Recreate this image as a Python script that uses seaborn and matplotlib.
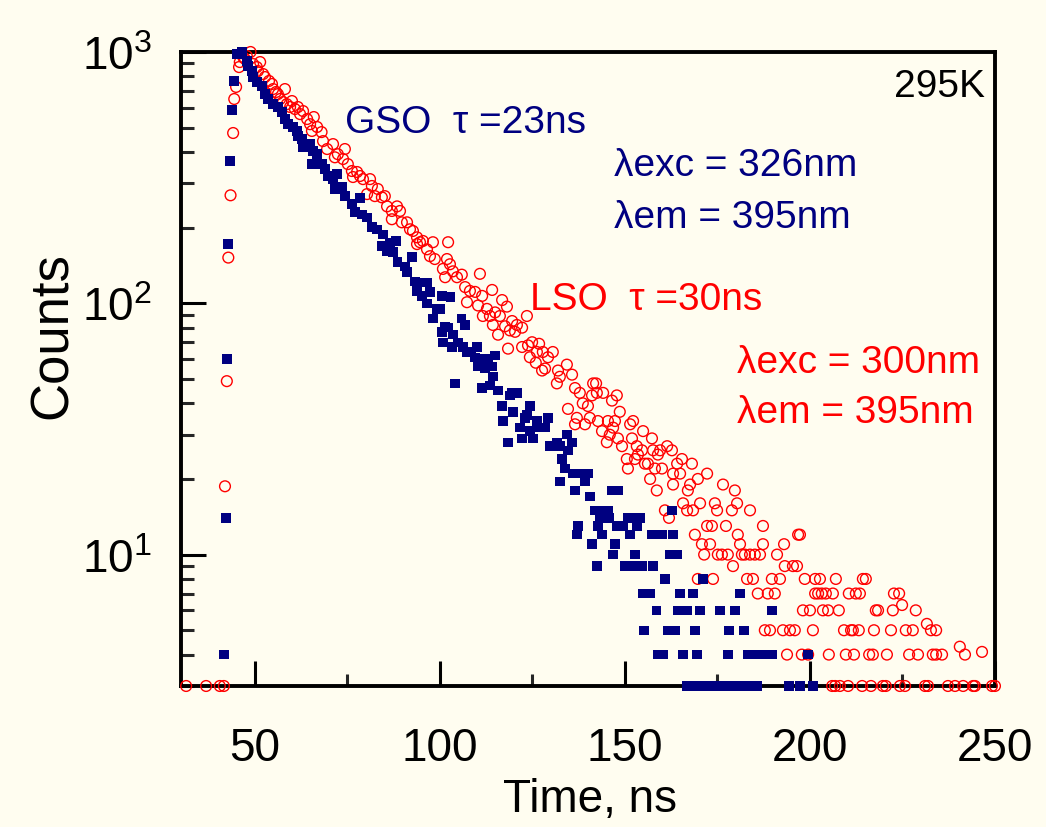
import matplotlib
matplotlib.use("Agg")
import matplotlib.pyplot as plt
import seaborn as sns
from matplotlib.ticker import MultipleLocator, LogLocator, NullFormatter

# LSO decay (open red circles): time in ns, counts
lso_time = [
    31.4, 36.8, 40.5, 41.6, 41.9, 42.4, 42.8, 43.4, 44.1, 44.4,
    44.9, 45.7, 45.9, 46.8, 47.3, 47.8, 48.8, 49.5, 50.5, 50.8,
    51.4, 52.2, 52.7, 53.8, 54.6, 54.9, 55.7, 56.2, 56.8, 57.6,
    58.1, 58.6, 59.5, 60.0, 60.8, 61.6, 62.2, 63.0, 64.1, 64.9,
    65.4, 65.9, 66.8, 68.0, 68.4, 69.5, 71.1, 71.6, 72.4, 74.3,
    73.8, 75.1, 76.2, 76.5, 77.6, 78.4, 79.2, 81.1, 80.3, 81.6,
    82.4, 83.2, 84.3, 85.1, 85.7, 87.0, 88.4, 89.2, 87.0, 89.7,
    91.1, 91.9, 92.7, 93.8, 94.6, 95.4, 96.5, 93.8, 98.1, 97.3,
    98.6, 100.8, 101.4, 101.9, 102.2, 102.7, 103.5, 104.6, 105.9, 106.8,
    107.3, 108.1, 109.5, 110.3, 110.8, 111.4, 111.6, 112.7, 113.5, 114.1,
    114.3, 114.9, 115.7, 116.2, 116.8, 117.6, 118.1, 118.4, 118.9, 119.5,
    120.3, 120.8, 122.2, 122.2, 123.5, 123.8, 124.3, 124.9, 125.9, 126.2,
    126.8, 127.6, 127.8, 128.4, 129.2, 130.5, 131.6, 131.9, 132.4, 134.3,
    134.6, 135.7, 136.5, 136.5, 137.0, 137.8, 138.6, 139.2, 140.0, 140.5,
    141.1, 141.4, 142.2, 142.4, 142.7, 143.8, 144.1, 145.1, 145.4, 145.9,
    146.5, 146.8, 147.3, 147.8, 148.1, 148.6, 149.2, 150.5, 150.8, 151.4,
    151.9, 152.2, 152.7, 153.2, 153.5, 154.6, 154.9, 155.4, 156.2, 157.3,
    157.6, 158.1, 158.9, 159.5, 160.0, 161.4, 162.7, 163.0, 164.1, 164.9,
    165.4, 168.1, 172.2, 156.8, 158.6, 160.8, 161.9, 163.0, 165.7, 166.8,
    167.0, 167.6, 168.4, 168.9, 169.7, 169.7, 170.3, 170.8, 171.4, 172.2,
    173.0, 173.5, 173.8, 174.3, 174.9, 175.1, 176.2, 176.5, 177.3, 177.8,
    178.9, 179.2, 179.7, 180.3, 180.5, 181.1, 181.6, 182.4, 183.0, 183.8,
    183.8, 184.6, 185.1, 185.9, 186.5, 187.3, 187.3, 187.8, 188.6, 189.2,
    189.7, 190.5, 191.1, 191.9, 192.7, 193.0, 193.2, 193.8, 194.6, 195.4,
    195.9, 196.5, 196.8, 197.3, 197.8, 198.1, 198.6, 199.5, 200.0, 200.8,
    201.4, 201.4, 202.2, 202.7, 203.2, 203.5, 204.3, 204.9, 205.1, 206.0,
    206.2, 206.8, 207.0, 207.8, 208.1, 209.2, 209.7, 210.3, 210.5, 211.1,
    211.6, 211.9, 212.4, 213.2, 213.5, 214.1, 214.3, 215.1, 216.0, 216.5,
    217.0, 217.3, 217.8, 218.4, 219.7, 220.5, 220.8, 221.9, 222.4, 222.7,
    224.1, 224.3, 224.9, 225.7, 225.9, 226.8, 227.8, 228.6, 229.2, 231.1,
    231.6, 231.9, 232.7, 233.2, 234.1, 234.1, 235.7, 237.3, 239.2, 240.5,
    241.4, 241.9, 244.1, 244.6, 246.5, 249.2, 250.0,
]
lso_counts = [
    3, 3, 3, 3, 18.7, 49, 152, 269, 476, 650,
    726, 871, 912, 955, 938, 964, 1000, 896, 871, 840,
    912, 817, 795, 767, 746, 712, 693, 680, 650, 632,
    712, 620, 604, 638, 593, 604, 566, 582, 541, 516,
    485, 551, 503, 480, 442, 411, 430, 381, 392, 411,
    375, 358, 336, 318, 333, 321, 312, 312, 272, 293,
    267, 285, 264, 267, 243, 233, 243, 233, 216, 210,
    210, 197, 194, 183, 175, 177, 164, 172, 175, 154,
    150, 137, 127, 150, 175, 143, 134, 127, 130, 116,
    101, 112, 111, 98, 131, 107, 89, 95, 89, 113,
    82, 92, 75, 89, 103, 81, 97, 66, 78, 85,
    77, 82, 80, 67, 89, 68, 61, 70, 58, 64,
    69, 54, 64, 55, 61, 64, 48, 54, 51, 57,
    38, 52, 46, 33, 35, 44, 40, 33, 39, 35,
    43, 48, 48, 44, 34, 31, 44, 28, 34, 30,
    41, 32, 34, 43, 29, 37, 27, 24, 22, 33,
    29, 34, 24, 27, 25, 26, 31, 23, 23, 29,
    26, 22, 25, 26, 22, 27, 26, 21, 23, 21,
    24, 23, 21, 20, 18, 15, 14, 19, 16, 15,
    18, 19, 15, 12, 20, 8, 16, 11, 10, 13,
    11, 13, 8, 16, 15, 10, 10, 19, 13, 10,
    15, 9, 18, 16, 12, 11, 10, 10, 8, 15,
    10, 8, 10, 7, 10, 13, 11, 5, 7, 5,
    8, 7, 10, 8, 5, 11, 9, 4, 5, 9,
    5, 9, 12, 12, 4, 6, 8, 4, 6, 5,
    8, 7, 7, 8, 7, 6, 7, 6, 4, 3,
    7, 3, 8, 6, 3, 5, 4, 3, 7, 5,
    5, 4, 7, 5, 7, 3, 8, 8, 4, 3,
    4, 5, 6, 6, 3, 3, 4, 5, 6, 7,
    7, 3, 6.3, 3, 5, 4, 5, 6, 4, 3,
    5.3, 3, 5, 4, 5, 4, 4, 3, 3, 4.3,
    3, 4, 3, 3, 4.1, 3, 3,
]

# GSO decay (filled navy squares)
gso_time = [
    41.6, 42.2, 42.4, 42.7, 43.2, 43.8, 44.3, 45.1, 46.5,
    47.8, 48.1, 49.2, 49.5, 50.5, 51.9, 52.7, 53.5, 54.9, 56.2,
    57.3, 58.1, 58.9, 60.3, 61.4, 61.6, 62.7, 63.0, 64.9, 65.7,
    66.8, 65.4, 68.1, 68.9, 69.7, 71.1, 72.2, 71.6, 73.5, 74.3,
    76.2, 78.4, 77.0, 78.9, 80.3, 81.6, 83.0, 84.6, 84.3, 86.5,
    85.7, 88.1, 87.3, 88.6, 90.5, 92.4, 91.1, 93.2, 94.6, 96.5,
    93.8, 95.1, 97.3, 96.5, 99.2, 98.1, 100.5, 102.9, 100.0, 101.4,
    102.2, 100.5, 105.9, 106.8, 103.5, 100.8, 104.9, 106.2, 103.2, 107.3,
    108.6, 110.0, 109.5, 111.4, 113.0, 114.9, 110.3, 112.2, 114.1, 114.3,
    104.1, 111.4, 113.5, 115.7, 119.5, 120.8, 118.9, 116.8, 124.3, 119.7,
    123.5, 123.0, 126.2, 129.2, 117.0, 127.0, 128.4, 121.6, 124.3, 122.2,
    125.1, 118.4, 129.7, 131.6, 134.3, 135.7, 132.4, 134.6, 133.0, 133.8,
    136.0, 138.4, 140.0, 139.2, 132.4, 136.5, 140.5, 146.5, 148.1, 141.9,
    144.1, 145.4, 143.2, 145.9, 150.8, 153.5, 137.3, 142.7, 147.8, 149.5,
    153.2, 137.0, 143.8, 151.4, 141.1, 147.3, 146.8, 152.7, 142.4, 150.0,
    151.9, 162.7, 154.1, 157.3, 160.0, 163.0, 162.2, 164.1, 154.6, 157.6,
    160.8, 171.1, 154.9, 156.8, 164.9, 168.4, 181.1, 158.6, 164.3, 166.8,
    170.3, 175.7, 179.7, 189.7, 155.1, 161.6, 163.5, 168.9, 178.1, 182.2,
    158.9, 160.3, 165.7, 169.5, 177.8, 183.2, 184.6, 187.3, 189.9, 199.5,
    166.8, 167.6, 168.4, 169.7, 171.1, 172.2, 173.5, 174.9, 176.2, 177.6,
    178.9, 179.7, 181.9, 183.0, 185.7, 194.3, 197.3, 200.8,
]
gso_counts = [
    4, 14, 60, 172, 368, 588, 767, 982, 1000,
    921, 880, 840, 795, 760, 732, 680, 650, 620, 604,
    577, 541, 516, 503, 485, 463, 450, 418, 430, 403,
    392, 358, 358, 342, 321, 312, 327, 285, 290, 267,
    248, 262, 231, 226, 220, 201, 197, 188, 169, 175,
    161, 177, 160, 146, 140, 153, 133, 122, 121, 121,
    112, 107, 111, 100, 95, 87, 107, 106, 95, 81,
    80, 77, 87, 82, 75, 70, 70, 67, 67, 64,
    64, 67, 61, 60, 60, 62, 56, 55, 56, 51,
    48, 46, 47, 45, 44, 44, 43, 39, 39, 37,
    36, 35, 34, 35, 34, 32, 32, 32, 31, 29,
    29, 28, 27, 28, 30, 28, 27, 26, 24, 22,
    21, 21, 21, 19.5, 19.5, 18, 17, 18, 18, 15,
    15, 15, 14, 14, 14, 14, 13, 13, 13, 13,
    13, 12, 12, 12, 11, 11, 10, 10, 9, 9,
    9, 15, 14, 12, 12, 12, 10, 10, 9, 9,
    8, 8, 7, 7, 7, 7, 7, 6, 6, 6,
    6, 6, 6, 6, 5, 5, 5, 5, 5, 5,
    4, 4, 4, 4, 4, 4, 4, 4, 4, 4,
    3, 3, 3, 3, 3, 3, 3, 3, 3, 3,
    3, 3, 3, 3, 3, 3, 3, 3,
]

x_major = [50, 100, 150, 200, 250]

bg = "#FFFDF0"
navy = "#000080"
red = "#FF0000"

sns.set_style("ticks")
plt.rcParams["font.family"] = ["Liberation Sans", "DejaVu Sans"]
plt.rcParams["text.color"] = "black"
plt.rcParams["mathtext.fontset"] = "custom"
plt.rcParams["mathtext.rm"] = "Liberation Sans"
plt.rcParams["mathtext.it"] = "Liberation Sans:italic"
plt.rcParams["mathtext.bf"] = "Liberation Sans:bold"

fig = plt.figure(figsize=(10.46, 8.28), dpi=100, facecolor=bg)
ax = fig.add_axes([0.173, 0.1703, 0.7782, 0.7657])
ax.set_facecolor(bg)

# red circles first, blue squares on top
sns.scatterplot(x=lso_time, y=lso_counts, ax=ax, marker="o", s=60,
                facecolor="none", edgecolor=red, linewidth=1.0,
                clip_on=False, zorder=3)
sns.scatterplot(x=gso_time, y=gso_counts, ax=ax, marker="s", s=46,
                color=navy, edgecolor="none", linewidth=0,
                clip_on=False, zorder=4)

ax.set_yscale("log")
ax.set_xlim(30, 250)
ax.set_ylim(3, 1000)
ax.set_xticks(x_major)
ax.xaxis.set_minor_locator(MultipleLocator(25))
ax.yaxis.set_major_locator(LogLocator(base=10, numticks=10))
ax.yaxis.set_minor_locator(LogLocator(base=10, subs=range(2, 10), numticks=20))
ax.yaxis.set_minor_formatter(NullFormatter())
ax.set_xlabel("")
ax.set_ylabel("")

for sp in ax.spines.values():
    sp.set_linewidth(2.8)
    sp.set_color("black")
ax.tick_params(which="major", direction="in", length=18, width=2.2,
               labelsize=33, colors="black")
ax.tick_params(which="minor", direction="in", length=9, width=2.2)
ax.tick_params(axis="x", which="major", pad=29)
ax.tick_params(axis="y", which="major", pad=21)

# axis titles
fig.text(590 / 1046, 1 - 812 / 828, "Time, ns", fontsize=33, color="black",
         ha="center", va="baseline")
fig.text(67 / 1046, 1 - 336 / 828, "Counts", fontsize=38, rotation=90,
         color="black", rotation_mode="anchor", ha="center", va="baseline")

# annotations
tkw = dict(transform=ax.transAxes, fontsize=28, va="baseline")
ax.text(0.2015, 0.874, "GSO  τ =23ns", color=navy, **tkw)
ax.text(0.532, 0.806, "λexc = 326nm", color=navy, **tkw)
ax.text(0.532, 0.724, "λem = 395nm", color=navy, **tkw)
ax.text(0.429, 0.595, "LSO  τ =30ns", color=red, **tkw)
ax.text(0.683, 0.495, "λexc = 300nm", color=red, **tkw)
ax.text(0.683, 0.416, "λem = 395nm", color=red, **tkw)
ax.text(0.988, 0.931, "295K", color="black", ha="right",
        transform=ax.transAxes, fontsize=28, va="baseline")

fig.savefig("out.png", dpi=100, facecolor=bg)
